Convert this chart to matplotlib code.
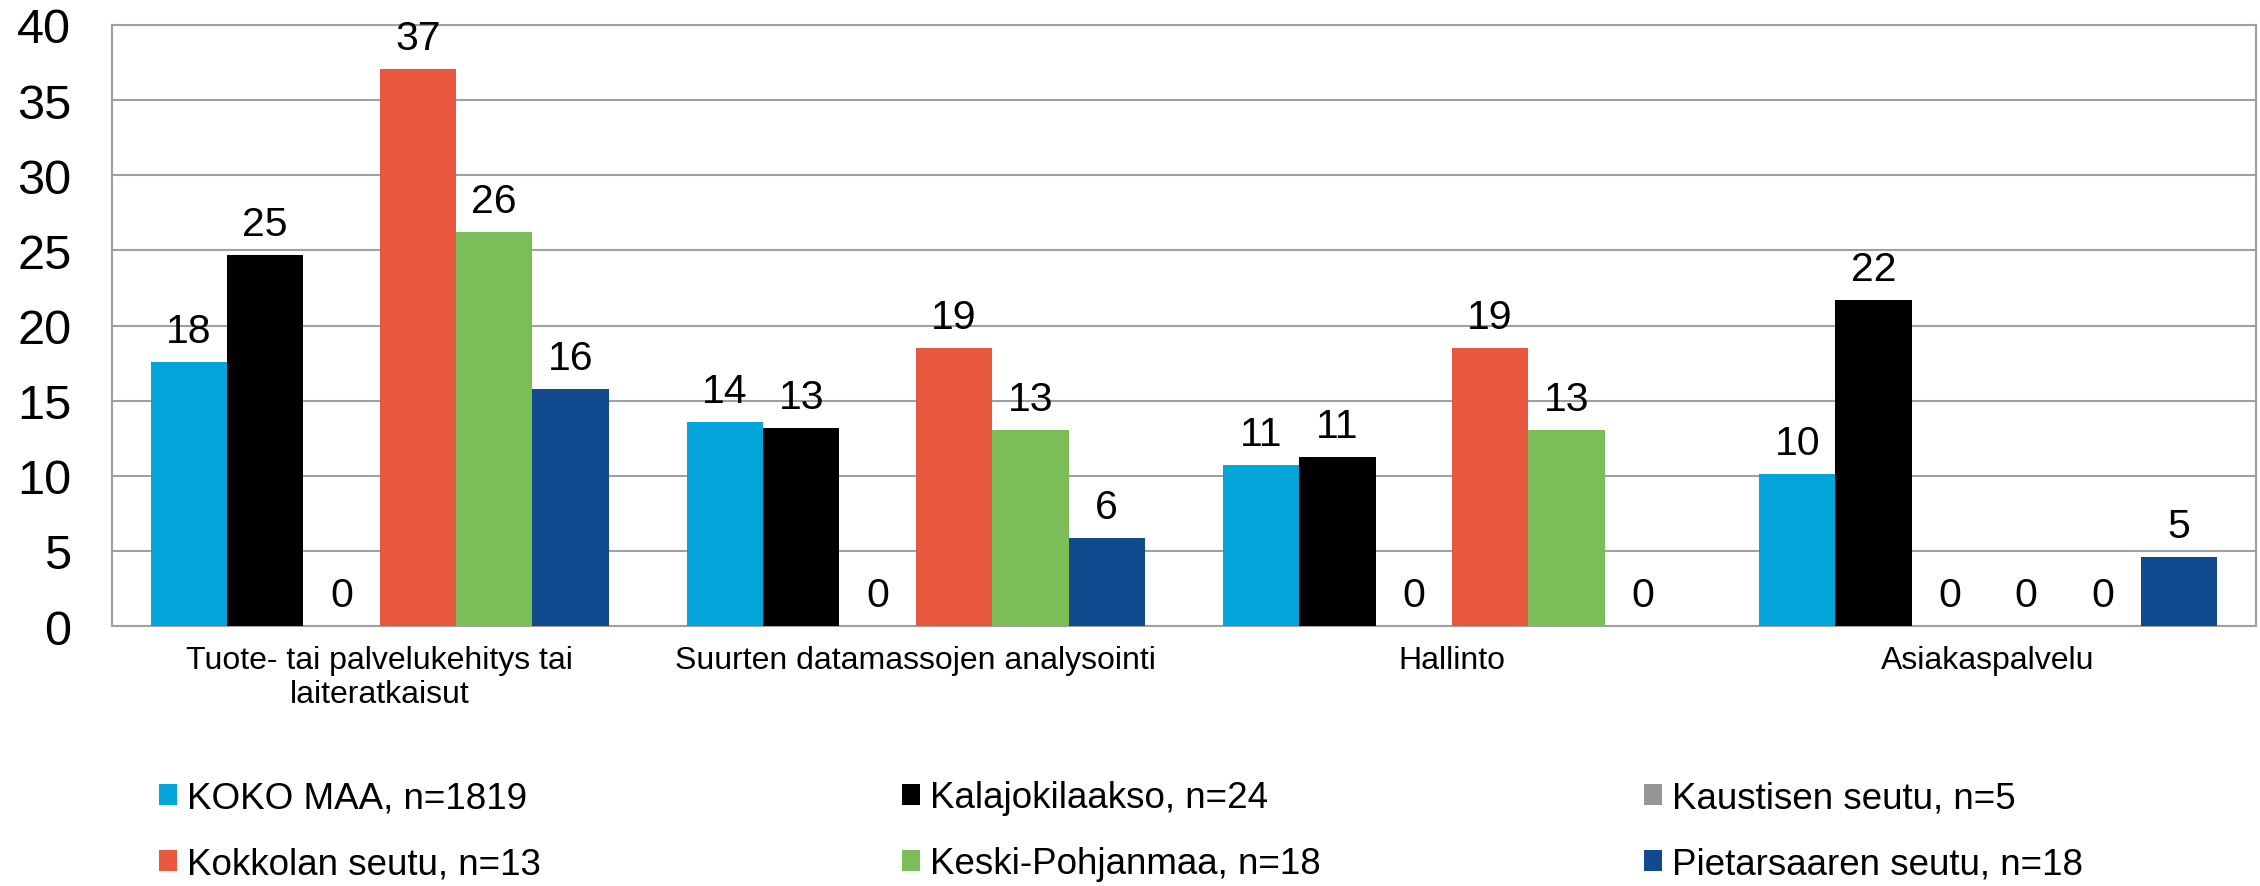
import numpy as np
import matplotlib
matplotlib.use('Agg')
import matplotlib.pyplot as plt

plt.rcParams['font.family'] = ['Liberation Sans', 'DejaVu Sans']

# Kategoriat
categories = ['Tuote- tai palvelukehitys tai\nlaiteratkaisut',
              'Suurten datamassojen analysointi',
              'Hallinto',
              'Asiakaspalvelu']

# Sarjat (prosentteja)
series_names = ['KOKO MAA, n=1819', 'Kalajokilaakso, n=24', 'Kaustisen seutu, n=5',
                'Kokkolan seutu, n=13', 'Keski-Pohjanmaa, n=18', 'Pietarsaaren seutu, n=18']
koko_maa = [17.6, 13.6, 10.7, 10.1]
kalajokilaakso = [24.7, 13.2, 11.25, 21.7]
kaustinen = [0, 0, 0, 0]
kokkola = [37.1, 18.5, 18.5, 0]
keski_pohjanmaa = [26.25, 13.05, 13.05, 0]
pietarsaari = [15.8, 5.85, 0, 4.6]

colors = ['#03A5DA', '#000000', '#969696', '#E8583F', '#7BBD56', '#124A8F']
series = [koko_maa, kalajokilaakso, kaustinen, kokkola, keski_pohjanmaa, pietarsaari]

fig = plt.figure(figsize=(22.6, 8.87), dpi=100)
ax = fig.add_axes([0.0494, 0.2931, 0.9489, 0.6776])

x = np.arange(len(categories))
w = 0.1424
bars = []
for j, (vals, c) in enumerate(zip(series, colors)):
    b = ax.bar(x + (j - 2.5) * w, vals, width=w, color=c, zorder=3)
    bars.append(b)
    ax.bar_label(b, labels=[str(int(v + 0.5)) for v in vals], padding=8.6,
                 fontsize=29.5, zorder=4)

ax.set_xlim(-0.5, 3.5)
ax.set_ylim(0, 40)
ax.set_yticks(range(0, 41, 5))
ax.set_xticks(x)
ax.set_xticklabels(categories, fontsize=23, linespacing=1.15)
ax.tick_params(axis='y', labelsize=35, length=0, pad=29)
ax.tick_params(axis='x', length=0, pad=14)
ax.grid(axis='y', color='#A0A0A0', linewidth=1.5, zorder=0)
for s in ax.spines.values():
    s.set_color('#A0A0A0')
    s.set_linewidth(1.5)

# Selite kolmessa sarakkeessa
cols = [(0, 3, 0.0704), (1, 4, 0.3991), (2, 5, 0.7274)]
for a, b_, xpos in cols:
    fig.legend(handles=[bars[a], bars[b_]], labels=[series_names[a], series_names[b_]],
               loc='upper left', bbox_to_anchor=(xpos, 0.119), frameon=False,
               fontsize=26.5, handlelength=0.49, handleheight=0.49, handletextpad=0.27,
               labelspacing=0.84, borderpad=0, borderaxespad=0)

fig.savefig('out.png', dpi=100)
